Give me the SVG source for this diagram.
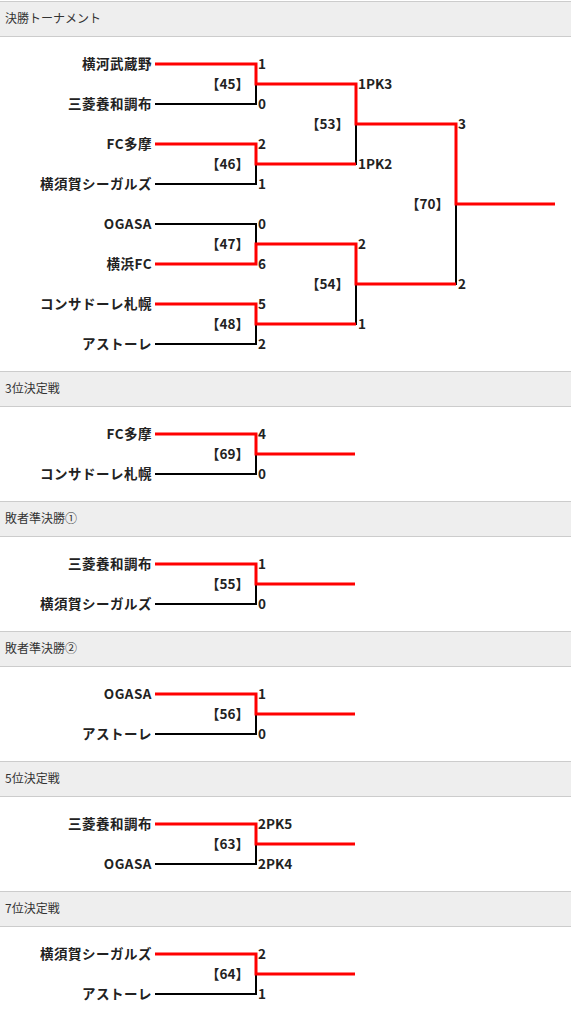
<svg xmlns="http://www.w3.org/2000/svg" width="571" height="1020" viewBox="0 0 571 1020">
<style>
.hd{fill:#eeeeee;stroke:#cccccc;stroke-width:1}
.ht{font-family:"Noto Sans CJK JP","Noto Sans",sans-serif;font-size:12px;fill:#333333}
.tm{font-family:"Noto Sans CJK JP","Noto Sans",sans-serif;font-size:13.5px;font-weight:bold;fill:#222222;text-anchor:end;letter-spacing:0.5px}
.sc{font-family:"Noto Sans CJK JP","Noto Sans",sans-serif;font-size:13.5px;font-weight:bold;fill:#222222}
.lb{font-family:"Noto Sans CJK JP","Noto Sans",sans-serif;font-size:13.5px;font-weight:bold;fill:#222222;text-anchor:end}
.bk{fill:none;stroke:#000000;stroke-width:2}
.rd{fill:none;stroke:#ff0000;stroke-width:3}
</style>
<g id="headers">
<rect class="hd" x="-1" y="1.5" width="573" height="35"/>
<text class="ht" x="5" y="23">決勝トーナメント</text>
<rect class="hd" x="-1" y="371.5" width="573" height="35"/>
<text class="ht" x="5" y="393">3位決定戦</text>
<rect class="hd" x="-1" y="501.5" width="573" height="35"/>
<text class="ht" x="5" y="523">敗者準決勝①</text>
<rect class="hd" x="-1" y="631.5" width="573" height="35"/>
<text class="ht" x="5" y="653">敗者準決勝②</text>
<rect class="hd" x="-1" y="761.5" width="573" height="35"/>
<text class="ht" x="5" y="783">5位決定戦</text>
<rect class="hd" x="-1" y="891.5" width="573" height="35"/>
<text class="ht" x="5" y="913">7位決定戦</text>
</g>
<g id="connectors">
<path class="bk" d="M155,104 H256 V84"/>
<path class="bk" d="M155,184 H256 V164"/>
<path class="bk" d="M155,224 H256 V244"/>
<path class="bk" d="M155,344 H256 V324"/>
<path class="bk" d="M256,164 H356 V124"/>
<path class="bk" d="M256,324 H356 V284"/>
<path class="bk" d="M356,284 H456 V204"/>
<path class="bk" d="M155,474 H256 V454"/>
<path class="bk" d="M155,604 H256 V584"/>
<path class="bk" d="M155,734 H256 V714"/>
<path class="bk" d="M155,864 H256 V844"/>
<path class="bk" d="M155,994 H256 V974"/>
<path class="rd" d="M155,64 H256 V84 H356 V124 H456 V204 H555"/>
<path class="rd" d="M155,144 H256 V164 H356"/>
<path class="rd" d="M155,264 H256 V244 H356 V284 H456"/>
<path class="rd" d="M155,304 H256 V324 H356"/>
<path class="rd" d="M155,434 H256 V454 H355"/>
<path class="rd" d="M155,564 H256 V584 H355"/>
<path class="rd" d="M155,694 H256 V714 H355"/>
<path class="rd" d="M155,824 H256 V844 H355"/>
<path class="rd" d="M155,954 H256 V974 H355"/>
</g>
<g id="m45">
<text class="tm" x="152" y="69">横河武蔵野</text>
<text class="tm" x="152" y="109">三菱養和調布</text>
<text class="sc" x="258" y="69">1</text>
<text class="sc" x="258" y="109">0</text>
<text class="lb" x="249" y="89">【45】</text>
</g>
<g id="m46">
<text class="tm" x="152" y="149">FC多摩</text>
<text class="tm" x="152" y="189">横須賀シーガルズ</text>
<text class="sc" x="258" y="149">2</text>
<text class="sc" x="258" y="189">1</text>
<text class="lb" x="249" y="169">【46】</text>
</g>
<g id="m47">
<text class="tm" x="152" y="229">OGASA</text>
<text class="tm" x="152" y="269">横浜FC</text>
<text class="sc" x="258" y="229">0</text>
<text class="sc" x="258" y="269">6</text>
<text class="lb" x="249" y="249">【47】</text>
</g>
<g id="m48">
<text class="tm" x="152" y="309">コンサドーレ札幌</text>
<text class="tm" x="152" y="349">アストーレ</text>
<text class="sc" x="258" y="309">5</text>
<text class="sc" x="258" y="349">2</text>
<text class="lb" x="249" y="329">【48】</text>
</g>
<g id="m53">
<text class="sc" x="358" y="89">1PK3</text>
<text class="sc" x="358" y="169">1PK2</text>
<text class="lb" x="349" y="129">【53】</text>
</g>
<g id="m54">
<text class="sc" x="358" y="249">2</text>
<text class="sc" x="358" y="329">1</text>
<text class="lb" x="349" y="289">【54】</text>
</g>
<g id="m70">
<text class="sc" x="458" y="129">3</text>
<text class="sc" x="458" y="289">2</text>
<text class="lb" x="449" y="209">【70】</text>
</g>
<g id="m69">
<text class="tm" x="152" y="439">FC多摩</text>
<text class="tm" x="152" y="479">コンサドーレ札幌</text>
<text class="sc" x="258" y="439">4</text>
<text class="sc" x="258" y="479">0</text>
<text class="lb" x="249" y="459">【69】</text>
</g>
<g id="m55">
<text class="tm" x="152" y="569">三菱養和調布</text>
<text class="tm" x="152" y="609">横須賀シーガルズ</text>
<text class="sc" x="258" y="569">1</text>
<text class="sc" x="258" y="609">0</text>
<text class="lb" x="249" y="589">【55】</text>
</g>
<g id="m56">
<text class="tm" x="152" y="699">OGASA</text>
<text class="tm" x="152" y="739">アストーレ</text>
<text class="sc" x="258" y="699">1</text>
<text class="sc" x="258" y="739">0</text>
<text class="lb" x="249" y="719">【56】</text>
</g>
<g id="m63">
<text class="tm" x="152" y="829">三菱養和調布</text>
<text class="tm" x="152" y="869">OGASA</text>
<text class="sc" x="258" y="829">2PK5</text>
<text class="sc" x="258" y="869">2PK4</text>
<text class="lb" x="249" y="849">【63】</text>
</g>
<g id="m64">
<text class="tm" x="152" y="959">横須賀シーガルズ</text>
<text class="tm" x="152" y="999">アストーレ</text>
<text class="sc" x="258" y="959">2</text>
<text class="sc" x="258" y="999">1</text>
<text class="lb" x="249" y="979">【64】</text>
</g>
</svg>
